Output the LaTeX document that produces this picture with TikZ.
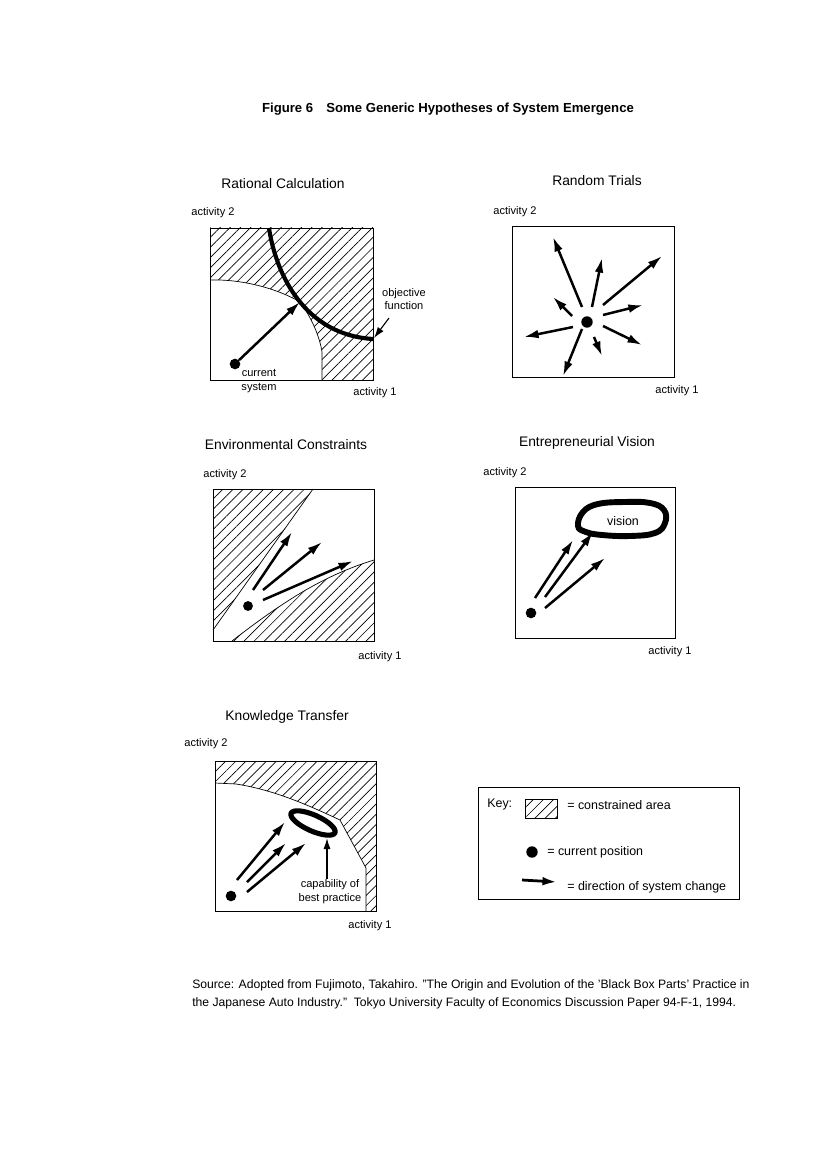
\documentclass[tikz,border=0pt]{standalone}
\usepackage{fontspec}
\setmainfont{Liberation Sans}
\usetikzlibrary{arrows.meta,patterns.meta}
\begin{document}
\begin{tikzpicture}[x=0.254mm,y=-0.254mm,
  frame/.style={draw,line width=0.6pt},
  hatch/.style={pattern={Lines[angle=45,distance=5.2pt,line width=0.5pt]}},
  bound/.style={draw,line width=0.5pt},
  chg/.style={line width=1.8pt,-{Latex[length=3.7mm,width=2.2mm]}},
  ptr/.style={line width=0.8pt,-{Latex[length=2.8mm,width=1.8mm]}},
  dotmark/.style={fill,circle,inner sep=0pt,minimum size=2.7mm},
  lbl/.style={font=\fontsize{8}{10}\selectfont,inner sep=0pt,align=center},
  keytxt/.style={font=\fontsize{9}{10}\selectfont,inner sep=0pt,anchor=west},
  ptitle/.style={font=\fontsize{10}{12}\selectfont,inner sep=0pt},
  srctxt/.style={font=\fontsize{8.8}{10}\selectfont,inner sep=0pt,anchor=west},
]
\useasboundingbox (0,0) rectangle (827,1170);
\fill[white] (0,0) rectangle (827,1170);

% Title
\node[font=\bfseries\fontsize{9.5}{11}\selectfont,inner sep=0pt] (title) at (448,109) {Figure 6\quad Some Generic Hypotheses of System Emergence};

% ---------- Panel 1: Rational Calculation ----------
\node[ptitle] (t1) at (283,184) {Rational Calculation};
\node[lbl] (a12) at (213,213) {activity 2};
\node[lbl] (a11) at (375,393) {activity 1};
\fill[hatch] (210,228) rectangle (373,380);
\fill[white] (210,280) .. controls (245,279) and (280,290) .. (300,302)
  .. controls (312,318) and (320,338) .. (322,352) -- (322,380) -- (210,380) -- cycle;
\draw[bound] (210,280) .. controls (245,279) and (280,290) .. (300,302)
  .. controls (312,318) and (320,338) .. (322,352) -- (322,380);
\draw[frame] (210,228) rectangle (373,380);
\draw[line width=1.05mm] (269,228) .. controls (276,275) and (305,335) .. (373,339);
\node[dotmark] (d1) at (235,364) {};
\coordinate (e1) at (300,302);
\draw[chg] (d1) -- (e1);
\node[lbl] (cs) at (259,381) {current\\system};
\node[lbl] (of) at (404,299) {objective\\function};
\coordinate (of1) at (389,318);
\coordinate (of2) at (374,338);
\draw[ptr] (of1) -- (of2);

% ---------- Panel 2: Random Trials ----------
\node[ptitle] (t2) at (597,181) {Random Trials};
\node[lbl] (a22) at (515,212) {activity 2};
\node[lbl] (a21) at (677,391) {activity 1};
\draw[frame] (512,226) rectangle (674,377);
\node[dotmark,minimum size=2.9mm] (d2) at (587,322) {};
\foreach \n/\sx/\sy/\ex/\ey in {a/582/307/553/237, b/592/307/602/258, c/603/305/662/256,
  d/603/315/643/305, e/603/326/642/345, f/594/337/602/356, g/582/329/563/376,
  h/573/327/524/337, i/572/316/553/297}{
  \coordinate (r\n s) at (\sx,\sy);
  \coordinate (r\n e) at (\ex,\ey);
  \draw[chg] (r\n s) -- (r\n e);
}

% ---------- Panel 3: Environmental Constraints ----------
\node[ptitle] (t3) at (286,445) {Environmental Constraints};
\node[lbl] (a32) at (225,475) {activity 2};
\node[lbl] (a31) at (380,657) {activity 1};
\fill[hatch] (213,489) -- (313,489) -- (213,630) -- cycle;
\draw[bound] (313,489) -- (213,630);
\fill[hatch] (232,641) .. controls (285,600) and (325,575) .. (374,560) -- (374,641) -- cycle;
\draw[bound] (232,641) .. controls (285,600) and (325,575) .. (374,560);
\draw[frame] (213,489) rectangle (374,641);
\node[dotmark,minimum size=2.5mm] (d3) at (248,606) {};
\foreach \n/\sx/\sy/\ex/\ey in {a/253/590/292/532, b/263/590/322/542, c/263/600/353/561}{
  \coordinate (c\n s) at (\sx,\sy);
  \coordinate (c\n e) at (\ex,\ey);
  \draw[chg] (c\n s) -- (c\n e);
}

% ---------- Panel 4: Entrepreneurial Vision ----------
\node[ptitle] (t4) at (587,443) {Entrepreneurial Vision};
\node[lbl] (a42) at (505,473) {activity 2};
\node[lbl] (a41) at (670,652) {activity 1};
\draw[frame] (515,487) rectangle (675,638);
\draw[line width=1.5mm] plot[smooth cycle,tension=0.7] coordinates {(578,526) (583,512) (598,504) (625,502) (650,503) (664,510) (665,523) (655,533) (630,536) (602,535) (586,532)};
\node[font=\fontsize{9}{10}\selectfont,inner sep=0pt] (vis) at (623,521) {vision};
\node[dotmark] (d4) at (531,613) {};
\foreach \n/\sx/\sy/\ex/\ey in {a/535/598/573/540, b/545/597/593/532, c/545/608/605/558}{
  \coordinate (v\n s) at (\sx,\sy);
  \coordinate (v\n e) at (\ex,\ey);
  \draw[chg] (v\n s) -- (v\n e);
}

% ---------- Panel 5: Knowledge Transfer ----------
\node[ptitle] (t5) at (287,717) {Knowledge Transfer};
\node[lbl] (a52) at (206,744) {activity 2};
\node[lbl] (a51) at (370,926) {activity 1};
\fill[hatch] (215,761) -- (376,761) -- (376,911) -- (366,911) -- (366,868) -- (340,820)
  .. controls (310,806) and (275,790) .. (236,784) -- (215,783) -- cycle;
\draw[bound] (366,911) -- (366,868) -- (340,820)
  .. controls (310,806) and (275,790) .. (236,784) -- (215,783);
\draw[frame] (215,761) rectangle (376,911);
\fill[white, rotate around={-24:(313,823)}] (313,823) ellipse [x radius=24, y radius=8];
\draw[line width=1.3mm, rotate around={-24:(313,823)}] (313,823) ellipse [x radius=24, y radius=8];
\node[dotmark] (d5) at (231,896) {};
\foreach \n/\sx/\sy/\ex/\ey in {a/237/880/285/822, b/247/882/286/843, c/247/892/306/843}{
  \coordinate (k\n s) at (\sx,\sy);
  \coordinate (k\n e) at (\ex,\ey);
  \draw[chg] (k\n s) -- (k\n e);
}
\node[lbl] (cap) at (330,892) {capability of\\best practice};
\coordinate (cp1) at (327,879);
\coordinate (cp2) at (327,838);
\draw[ptr,line width=1pt] (cp1) -- (cp2);

% ---------- Key ----------
\draw[frame] (478,787) rectangle (739,899);
\node[keytxt] (key) at (487,805) {Key:};
\fill[hatch] (525,799) rectangle (557,818);
\draw[line width=0.6pt] (525,799) rectangle (557,818);
\node[keytxt] (k1) at (567,805) {= constrained area};
\node[dotmark,minimum size=2.9mm] (kd) at (532,852) {};
\node[keytxt] (k2) at (547,852) {= current position};
\coordinate (ka) at (522,880);
\coordinate (kb) at (557,882);
\draw[chg,line width=2pt] (ka) -- (kb);
\node[keytxt] (k3) at (567,887) {= direction of system change};

% ---------- Source ----------
\node[srctxt] (s1) at (192,985) {Source: Adopted from Fujimoto, Takahiro. "The Origin and Evolution of the 'Black Box Parts' Practice in};
\node[srctxt] (s2) at (192,1003) {the Japanese Auto Industry."\ \ Tokyo University Faculty of Economics Discussion Paper 94-F-1, 1994.};
\end{tikzpicture}
\end{document}
